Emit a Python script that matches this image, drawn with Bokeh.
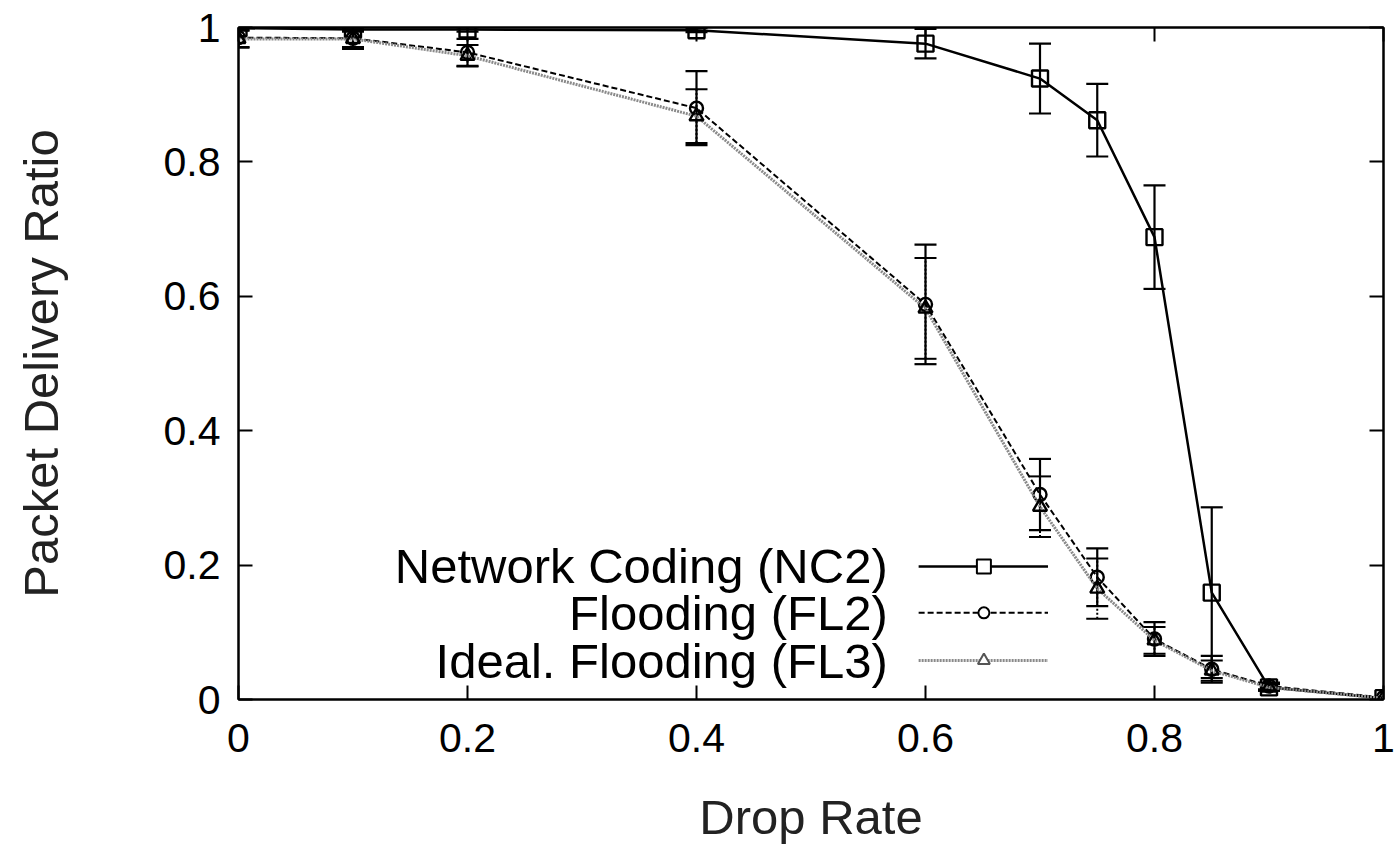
from bokeh.plotting import figure
from bokeh.models import ColumnDataSource, Whisker, TeeHead, LinearAxis, FixedTicker, Range1d
from bokeh.core.properties import value
from bokeh.embed import file_html
from bokeh.resources import INLINE

# ---- data ----
drop_rate = [0.0, 0.1, 0.2, 0.4, 0.6, 0.7, 0.75, 0.8, 0.85, 0.9, 1.0]
nc2 = [0.999, 0.997, 0.997, 0.996, 0.976, 0.924, 0.862, 0.688, 0.159, 0.018, 0.002]
nc2_err = [0.003, 0.003, 0.003, 0.003, 0.022, 0.052, 0.054, 0.077, 0.127, 0.005, 0.0]
fl2 = [0.985, 0.984, 0.963, 0.880, 0.588, 0.305, 0.182, 0.090, 0.045, 0.020, 0.003]
fl2_err = [0.015, 0.016, 0.020, 0.055, 0.089, 0.053, 0.043, 0.025, 0.020, 0.005, 0.0]
fl3 = [0.983, 0.983, 0.958, 0.868, 0.582, 0.287, 0.165, 0.088, 0.043, 0.018, 0.002]
fl3_err = [0.012, 0.012, 0.016, 0.040, 0.075, 0.045, 0.045, 0.020, 0.015, 0.005, 0.0]

labels = ["Network Coding (NC2)", "Flooding (FL2)", "Ideal. Flooding (FL3)"]
ticks = [0, 0.2, 0.4, 0.6, 0.8, 1.0]
tick_labels = ["0", "0.2", "0.4", "0.6", "0.8", "1"]

FONT = "Liberation Sans"

p = figure(width=1395, height=848, output_backend="svg", toolbar_location=None,
           x_range=Range1d(0, 1), y_range=Range1d(0, 1),
           min_border_left=238, min_border_right=12, min_border_top=27, min_border_bottom=149)
p.background_fill_color = "white"
p.border_fill_color = "white"
p.outline_line_color = "black"
p.outline_line_width = 2
p.xgrid.visible = False
p.ygrid.visible = False

def style_axis(ax, show_labels=True):
    ax.ticker = FixedTicker(ticks=ticks)
    if show_labels:
        ax.major_label_overrides = {t: l for t, l in zip(ticks, tick_labels)}
    else:
        ax.major_label_overrides = {t: "" for t in ticks}
    ax.major_tick_in = 14
    ax.major_tick_out = 0
    ax.minor_tick_line_color = None
    ax.major_tick_line_width = 2
    ax.axis_line_width = 2
    ax.major_label_text_font = FONT
    ax.major_label_text_font_size = "41px"
    ax.major_label_text_color = "black"
    ax.axis_label_text_font = FONT
    ax.axis_label_text_font_size = "49px"
    ax.axis_label_text_font_style = "normal"
    ax.axis_label_text_color = "#222222"

style_axis(p.xaxis[0])
style_axis(p.yaxis[0])
p.xaxis.axis_label = "Drop Rate"
p.yaxis.axis_label = "Packet Delivery Ratio"
p.xaxis.major_label_standoff = 24
p.yaxis.major_label_standoff = 18
p.xaxis.axis_label_standoff = 35
p.yaxis.axis_label_standoff = 93

ra = LinearAxis()
style_axis(ra, show_labels=False)
ra.major_label_standoff = 0
p.add_layout(ra, "right")
ta = LinearAxis()
style_axis(ta, show_labels=False)
ta.major_label_standoff = 0
p.add_layout(ta, "above")

def lo_hi(v, e):
    return [a - b for a, b in zip(v, e)], [a + b for a, b in zip(v, e)]

series = [
    dict(y=nc2, e=nc2_err, color="black", dash="solid", lw=2.5, marker="square", msize=16, ewidth=2.2),
    dict(y=fl2, e=fl2_err, color="black", dash="6 3", lw=2, marker="circle", msize=13, ewidth=2.2),
    dict(y=fl3, e=fl3_err, color="#8a8a8a", dash="2 1", lw=3, marker="triangle", msize=14, ewidth=2),
]

for s in series:
    lo, hi = lo_hi(s["y"], s["e"])
    src = ColumnDataSource(dict(x=drop_rate, y=s["y"], lo=lo, hi=hi))
    w = Whisker(source=src, base="x", lower="lo", upper="hi",
                line_color="black", line_width=s["ewidth"],
                line_dash="solid" if s["marker"] != "triangle" else "2 2",
                upper_head=TeeHead(size=22, line_color="black", line_width=s["ewidth"]),
                lower_head=TeeHead(size=22, line_color="black", line_width=s["ewidth"]))
    p.add_layout(w)
    p.line("x", "y", source=src, line_color=s["color"], line_width=s["lw"], line_dash=s["dash"])
    p.scatter("x", "y", source=src, marker=s["marker"], size=s["msize"],
              fill_color=None, line_color="black", line_width=2.4)

# ---- legend (drawn manually: text right-aligned, sample to its right) ----
leg_text_x = 0.567
leg_x0, leg_x1, leg_xm = 0.594, 0.707, 0.651
leg_y = [0.198, 0.129, 0.058]
p.text(x=[leg_text_x] * 3, y=leg_y, text=labels, text_align="right", text_baseline="middle",
       text_font=value(FONT), text_font_size="49px", text_color="black")
for s, yy in zip(series, leg_y):
    p.line([leg_x0, leg_x1], [yy, yy], line_color=s["color"], line_width=s["lw"], line_dash=s["dash"])
    p.scatter([leg_xm], [yy], marker=s["marker"], size=s["msize"] - 2,
              fill_color="white", line_color="black" if s["marker"] != "triangle" else "#555555",
              line_width=2)

open("out.html", "w").write(file_html(p, INLINE))
